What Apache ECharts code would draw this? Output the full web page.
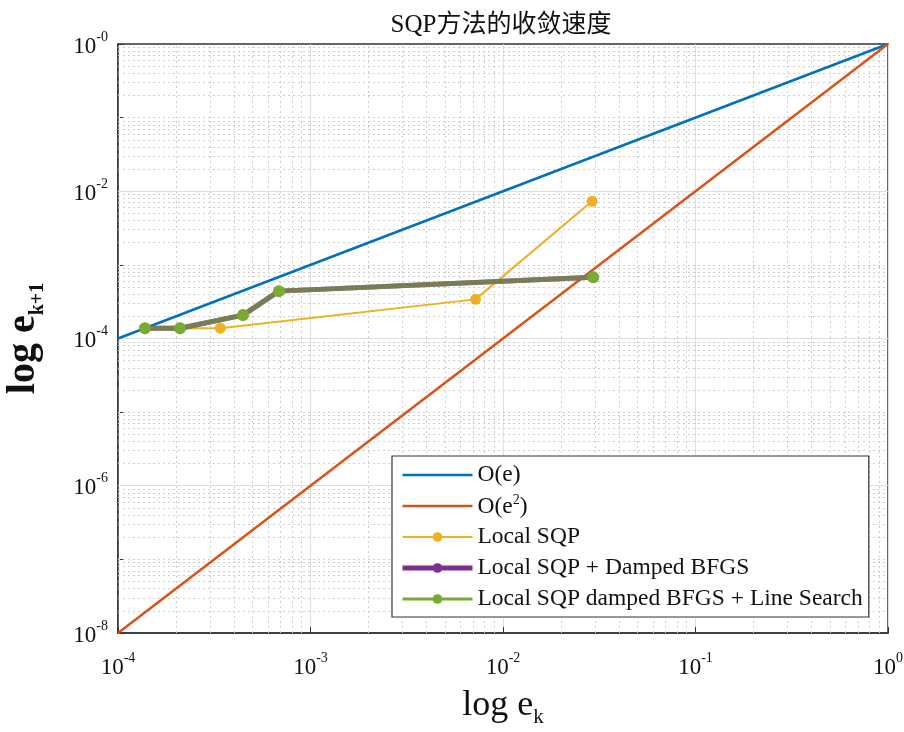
<!DOCTYPE html>
<html>
<head>
<meta charset="utf-8">
<script src="https://cdn.jsdelivr.net/npm/echarts@6/dist/echarts.min.js"></script>
<style>
  html, body { margin: 0; padding: 0; background: #fff; }
  #chart { width: 904px; height: 732px; }
</style>
</head>
<body>
<div id="chart"></div>
<script>
// reference lines
const lineE = [[1e-4, 1e-4], [1, 1]]
const lineE2 = [[1e-4, 1e-8], [1, 1]]

// iteration errors: [e_k, e_k+1]
const localSqp = [[0.029, 7.3e-3], [7.2e-3, 3.4e-4], [3.4e-4, 1.38e-4], [1.38e-4, 1.38e-4]]
const dampedBfgs = [[0.0294, 6.8e-4], [6.85e-4, 4.4e-4], [4.46e-4, 2.08e-4], [2.1e-4, 1.38e-4], [1.38e-4, 1.38e-4]]
const lineSearch = [[0.0294, 6.8e-4], [6.85e-4, 4.4e-4], [4.46e-4, 2.08e-4], [2.1e-4, 1.38e-4], [1.38e-4, 1.38e-4]]

const seriesNames = ['O(e)', 'O(e²)', 'Local SQP', 'Local SQP + Damped BFGS', 'Local SQP damped BFGS + Line Search']

// axis ranges and grid positions
const xRange = [1e-4, 1]
const yRange = [1e-8, 1]
const xDecades = [-4, -3, -2, -1]
const yDecades = [-8, -7, -6, -5, -4, -3, -2, -1]
const minorSteps = [2, 3, 4, 5, 6, 7, 8, 9]
const yMajorExps = [-6, -4, -2]
const yOddExps = [-7, -5, -3, -1]

const serif = '"Liberation Serif", "Times New Roman", "Noto Sans CJK SC", serif'
const noMarker = 'path://M0,0M1,1'

function expLabel(v, zeroText, hideOdd) {
  const e = Math.round(Math.log10(v))
  if (hideOdd && e % 2 !== 0) return ''
  const s = e === 0 ? zeroText : String(e)
  return '{b|10}{s|' + s + '}'
}

const tickRich = {
  b: { fontFamily: serif, fontSize: 23, color: '#111', lineHeight: 28, verticalAlign: 'bottom' },
  s: { fontFamily: serif, fontSize: 14, color: '#111', lineHeight: 28, verticalAlign: 'top', padding: [0, 0, 9, 0] }
}

// grid line segments
const minorGrid = []
xDecades.forEach((d) => minorSteps.forEach((m) => {
  const x = m * Math.pow(10, d)
  minorGrid.push({ coords: [[x, yRange[0]], [x, yRange[1]]] })
}))
yDecades.forEach((d) => minorSteps.forEach((m) => {
  const y = m * Math.pow(10, d)
  minorGrid.push({ coords: [[xRange[0], y], [xRange[1], y]] })
}))
yOddExps.forEach((d) => {
  const y = Math.pow(10, d)
  minorGrid.push({ coords: [[xRange[0], y], [xRange[1], y]] })
})
const majorGrid = yMajorExps.map((d) => {
  const y = Math.pow(10, d)
  return { coords: [[xRange[0], y], [xRange[1], y]] }
})

const legendWidths = [2.5, 2.5, 2, 5, 3]
const legendData = seriesNames.map((name, i) => ({
  name,
  lineStyle: { width: legendWidths[i], opacity: 1 }
}))

const chart = echarts.init(document.getElementById('chart'))

chart.setOption({
  backgroundColor: '#fff',
  animation: false,
  title: {
    text: 'SQP方法的收敛速度',
    left: 496,
    textAlign: 'center',
    top: 8,
    textStyle: { fontFamily: serif, fontSize: 25, fontWeight: 'normal', color: '#111' }
  },
  grid: {
    left: 118, right: 16, top: 44, bottom: 99,
    outerBoundsMode: 'none',
    containLabel: false,
    show: true, borderColor: '#333', borderWidth: 1.5, backgroundColor: 'transparent'
  },
  legend: {
    data: legendData,
    orient: 'vertical',
    left: 392,
    top: 456,
    padding: [6, 6, 5, 8],
    itemGap: 5,
    itemWidth: 70,
    itemHeight: 12,
    backgroundColor: '#fff',
    borderColor: '#333',
    borderWidth: 1.2,
    textStyle: {
      fontFamily: serif, fontSize: 23.5, color: '#111', lineHeight: 26,
      rich: {
        sup: { fontFamily: serif, fontSize: 14, color: '#111', verticalAlign: 'top', lineHeight: 26, padding: [0, 0, 8, 0] },
        n: { fontFamily: serif, fontSize: 23.5, color: '#111', lineHeight: 26, verticalAlign: 'bottom' }
      }
    },
    formatter: (name) => name === 'O(e²)' ? '{n|O(e}{sup|2}{n|)}' : name
  },
  xAxis: {
    type: 'log',
    logBase: 10,
    min: xRange[0],
    max: xRange[1],
    name: '{a|log e}{k|k}',
    nameLocation: 'middle',
    nameGap: 55,
    nameTextStyle: {
      rich: {
        a: { fontFamily: serif, fontSize: 36, color: '#111', lineHeight: 40, verticalAlign: 'top' },
        k: { fontFamily: serif, fontSize: 21, color: '#111', lineHeight: 40, verticalAlign: 'bottom', padding: [16, 0, 0, 0] }
      }
    },
    axisLine: { show: true, lineStyle: { color: '#333', width: 1.5 } },
    axisTick: { inside: true, length: 6, lineStyle: { color: '#333' } },
    axisLabel: { margin: 18, formatter: (v) => expLabel(v, '0', false), rich: tickRich },
    splitLine: { show: true, lineStyle: { color: '#dedede', width: 1 } }
  },
  yAxis: {
    type: 'log',
    logBase: 10,
    min: yRange[0],
    max: yRange[1],
    splitNumber: 8,
    name: '{a|log e}{k|k+1}',
    nameLocation: 'middle',
    nameRotate: 90,
    nameGap: 70,
    nameTextStyle: {
      rich: {
        a: { fontFamily: serif, fontSize: 40, fontWeight: 'bold', color: '#111', lineHeight: 44, verticalAlign: 'top' },
        k: { fontFamily: serif, fontSize: 20, fontWeight: 'bold', color: '#111', lineHeight: 44, verticalAlign: 'bottom', padding: [18, 0, 0, 0] }
      }
    },
    axisLine: { show: true, lineStyle: { color: '#333', width: 1.5 } },
    axisTick: { inside: true, length: 6, lineStyle: { color: '#333' } },
    axisLabel: { margin: 10, formatter: (v) => expLabel(v, '-0', true), rich: tickRich },
    splitLine: { show: false }
  },
  series: [
    {
      name: 'minorGrid',
      type: 'lines',
      coordinateSystem: 'cartesian2d',
      silent: true,
      z: 1,
      lineStyle: { color: '#cfcfcf', type: [2, 3], width: 1, opacity: 1 },
      data: minorGrid
    },
    {
      name: 'majorGrid',
      type: 'lines',
      coordinateSystem: 'cartesian2d',
      silent: true,
      z: 1,
      lineStyle: { color: '#dedede', width: 1, opacity: 1 },
      data: majorGrid
    },
    {
      name: seriesNames[0],
      type: 'line',
      data: lineE,
      symbol: noMarker,
      showSymbol: false,
      z: 3,
      lineStyle: { color: '#0072BD', width: 2.5 },
      itemStyle: { color: '#0072BD' }
    },
    {
      name: seriesNames[1],
      type: 'line',
      data: lineE2,
      symbol: noMarker,
      showSymbol: false,
      z: 3,
      lineStyle: { color: '#D95319', width: 2.5 },
      itemStyle: { color: '#D95319' }
    },
    {
      name: seriesNames[2],
      type: 'line',
      data: localSqp,
      symbol: 'circle',
      symbolSize: 11,
      z: 4,
      lineStyle: { color: '#EDB120', width: 2 },
      itemStyle: { color: '#EDB120' }
    },
    {
      name: seriesNames[3],
      type: 'line',
      data: dampedBfgs,
      symbol: 'circle',
      symbolSize: 11,
      z: 5,
      lineStyle: { color: '#7E2F8E', width: 5 },
      itemStyle: { color: '#7E2F8E' }
    },
    {
      name: seriesNames[4],
      type: 'line',
      data: lineSearch,
      symbol: 'circle',
      symbolSize: 12,
      z: 6,
      lineStyle: { color: '#77AC30', width: 5, opacity: 0.62 },
      itemStyle: { color: '#77AC30' }
    }
  ]
})
</script>
</body>
</html>
